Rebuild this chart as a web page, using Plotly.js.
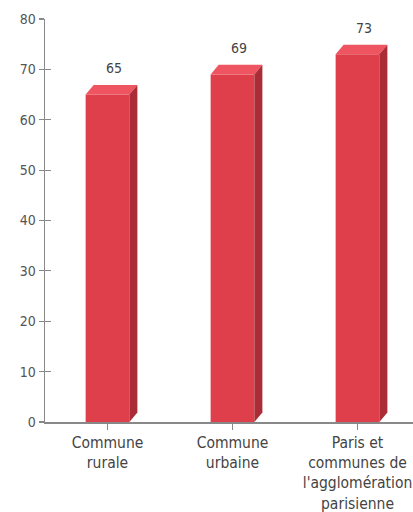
<!DOCTYPE html>
<html><head><meta charset="utf-8">
<script src="https://cdn.plot.ly/plotly-3.0.1.min.js"></script>
<style>html,body{margin:0;padding:0;background:#fff}</style>
</head><body>
<div id="chart" style="width:413px;height:512px"></div>
<script>
const categories = ["Commune<br>rurale", "Commune<br>urbaine", "Paris et<br>communes de<br>l'agglomération<br>parisienne"];
const values = [65, 69, 73];
const yTicks = [0, 10, 20, 30, 40, 50, 60, 70, 80];

const W = 0.35, DX = 0.064, DY = 1.9;
const FONT = "DejaVu Sans Condensed, Liberation Sans Narrow, Liberation Sans, sans-serif";
const idx = categories.map((c, i) => i);

const traces = [{
  type: 'bar', x: idx, y: values, width: W,
  marker: {color: '#de3f4b', line: {width: 0}},
  hoverinfo: 'skip', showlegend: false
}];
idx.forEach(i => {
  const l = i - W/2, r = i + W/2, v = values[i];
  traces.push({
    type: 'scatter', mode: 'lines', fill: 'toself',
    x: [l, r, r + DX, l + DX, l], y: [v, v, v + DY, v + DY, v],
    fillcolor: '#ef5561', line: {width: 0}, hoverinfo: 'skip', showlegend: false
  });
  traces.push({
    type: 'scatter', mode: 'lines', fill: 'toself',
    x: [r, r + DX, r + DX, r, r], y: [0, DY, v + DY, v, 0],
    fillcolor: '#a92c36', line: {width: 0}, hoverinfo: 'skip', showlegend: false
  });
});
traces.push({type:'scatter', x:[0], y:[0], yaxis:'y2', mode:'markers', marker:{opacity:0}, hoverinfo:'skip', showlegend:false});

const annotations = idx.map(i => ({
  x: i + DX/2, y: values[i] + DY, xref: 'x', yref: 'y',
  text: String(values[i]), showarrow: false, yanchor: 'bottom', yshift: 7, xshift: 2,
  font: {family: FONT, size: 14, color: '#444'}
}));

const layout = {
  width: 413, height: 512,
  margin: {l: 45, r: 0, t: 19, b: 90},
  paper_bgcolor: '#fff', plot_bgcolor: '#fff',
  showlegend: false,
  xaxis: {
    range: [-0.5, 2.444], tickvals: idx, ticktext: categories,
    tickson: 'boundaries', ticks: 'outside', ticklen: 6, tickcolor: '#888', tickwidth: 1.5,
    showline: true, linecolor: '#888', linewidth: 1.5, showgrid: false, zeroline: false,
    tickfont: {family: FONT, size: 15.5, color: '#444'}, fixedrange: true
  },
  yaxis: {
    range: [0, 80], tickvals: yTicks, ticks: 'outside', ticklen: 5, tickcolor: '#888', tickwidth: 1.2,
    showline: true, linecolor: '#888', linewidth: 1.5, showgrid: false, zeroline: false,
    tickfont: {family: FONT, size: 14, color: '#555'}, fixedrange: true
  },
  yaxis2: {
    range: [0, 80], overlaying: 'y', side: 'left', tickvals: yTicks, ticks: 'inside', ticklen: 6,
    tickcolor: '#888', tickwidth: 1.2, showticklabels: false, showline: false, showgrid: false, zeroline: false
  },
  annotations: annotations
};
Plotly.newPlot('chart', traces, layout, {staticPlot: true, displayModeBar: false});
</script>
</body></html>
